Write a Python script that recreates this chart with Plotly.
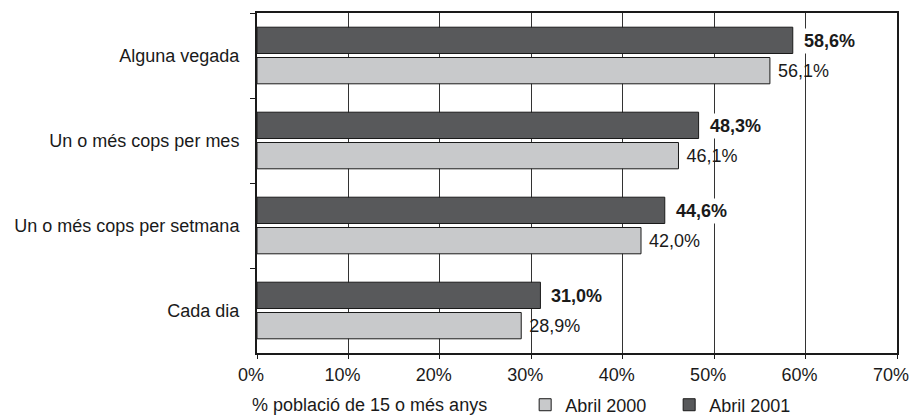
import plotly.graph_objects as go

categories = ["Alguna vegada", "Un o més cops per mes", "Un o més cops per setmana", "Cada dia"]
values_2000 = [56.1, 46.1, 42.0, 28.9]
values_2001 = [58.6, 48.3, 44.6, 31.0]
series_names = ["Abril 2000", "Abril 2001"]
x_ticks = [0, 10, 20, 30, 40, 50, 60, 70]

def fmt(v):
    return f"{v:.1f}".replace(".", ",") + "%"

FONT = "Liberation Sans, Arial, sans-serif"
FS = 18
DARK = "#58595b"
LIGHT = "#c8c9cb"
INK = "#1a1a1a"

fig = go.Figure()
fig.add_trace(go.Bar(
    y=categories, x=values_2001, orientation="h", name=series_names[1],
    marker=dict(color=DARK, line=dict(color=INK, width=1)),
    legendrank=2,
))
fig.add_trace(go.Bar(
    y=categories, x=values_2000, orientation="h", name=series_names[0],
    marker=dict(color=LIGHT, line=dict(color=INK, width=1)),
    text=[" " + fmt(v) for v in values_2000],
    textposition="outside", constraintext="none", cliponaxis=False,
    textfont=dict(family=FONT, size=FS, color=INK),
    legendrank=1,
))

# bold value labels of the 2001 series (white box hides gridlines)
annotations = [
    dict(x=v, y=c, xref="x", yref="y", text="<b>" + fmt(v) + "</b>",
         xanchor="left", yanchor="middle", xshift=8, yshift=15, showarrow=False,
         bgcolor="white", borderpad=2,
         font=dict(family=FONT, size=FS, color=INK))
    for c, v in zip(categories, values_2001)
]
annotations.append(dict(text="% població de 15 o més anys", xref="paper", yref="paper",
                        x=-0.0117, y=-0.153, xanchor="left", yanchor="middle", showarrow=False,
                        font=dict(family=FONT, size=FS, color=INK)))

fig.update_layout(
    width=910, height=408,
    margin=dict(l=249, r=21, t=5, b=63, autoexpand=False),
    paper_bgcolor="white", plot_bgcolor="white",
    barmode="group", bargap=0.287, bargroupgap=0.132,
    font=dict(family=FONT, size=FS, color=INK),
    showlegend=True,
    legend=dict(orientation="h", x=0.419, y=-0.153, xanchor="left", yanchor="middle",
                font=dict(family=FONT, size=FS, color=INK),
                entrywidth=99, entrywidthmode="pixels",
                itemwidth=30, tracegroupgap=0, bgcolor="rgba(0,0,0,0)"),
    xaxis=dict(range=[0, 70], tickvals=x_ticks, ticktext=[f"{t}%" for t in x_ticks],
               showgrid=True, gridcolor="#333333", gridwidth=1,
               showline=True, linecolor=INK, linewidth=2, mirror=True,
               ticks="outside", ticklen=4, tickcolor=INK, zeroline=False,
               tickfont=dict(size=FS), ticklabelstandoff=0, ticklabelshift=-6,
               ticklabeloverflow="allow", automargin=False),
    yaxis=dict(autorange="reversed", showgrid=False,
               showline=True, linecolor=INK, linewidth=2, mirror=True,
               ticks="outside", ticklen=5, tickcolor=INK, tickson="boundaries",
               tickfont=dict(size=FS), ticklabelstandoff=12, automargin=False),
    annotations=annotations,
)

fig.write_html("out.html")
